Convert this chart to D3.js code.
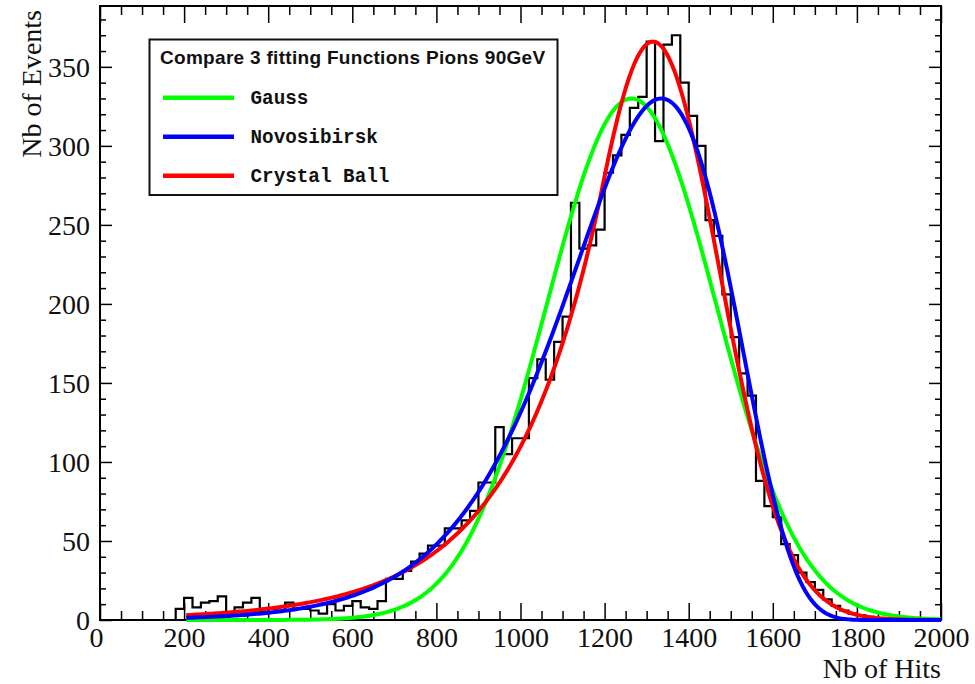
<!DOCTYPE html>
<html>
<head>
<meta charset="utf-8">
<script src="https://cdn.jsdelivr.net/npm/d3@7"></script>
<style>
  body { margin: 0; background: #fff; }
  svg { display: block; }
</style>
</head>
<body>
<svg id="chart" width="975" height="684"></svg>
<script>
// ---- histogram: number of hits per event, 20-hit bins from 0 to 2000 ----
const binWidth = 20;
const binCounts = [
  0, 0, 0, 0, 0, 0, 0, 0, 0, 7,          // 0 - 199
  14, 8, 11, 12, 15, 5, 8, 11, 14, 5,    // 200 - 399
  7, 6, 11, 7, 7, 6, 4, 10, 6, 9,        // 400 - 599
  12, 8, 7, 12, 26, 26, 31, 37, 42, 47,  // 600 - 799
  47, 58, 58, 63, 69, 87, 87, 122, 105, 115,      // 800 - 999
  115, 153, 165, 152, 176, 192, 264, 235, 237, 247, // 1000 - 1199
  283, 294, 307, 324, 331, 366, 303, 364, 370, 340, // 1200 - 1399
  319, 300, 253, 243, 206, 179, 156, 142, 88, 72,   // 1400 - 1599
  65, 48, 41, 30, 24, 19, 13, 9, 6, 4,              // 1600 - 1799
  3, 2, 1, 1, 0, 0, 0, 0, 0, 0                      // 1800 - 1999
];

// ---- axes ----
const xDomain = [0, 2000];
const yDomain = [0, 388.5];
const xMajorTicks = [0, 200, 400, 600, 800, 1000, 1200, 1400, 1600, 1800, 2000];
const xMinorStep = 50;
const yMajorTicks = [0, 50, 100, 150, 200, 250, 300, 350];
const yMinorStep = 10;
const xTitle = "Nb of Hits";
const yTitle = "Nb of Events";

// ---- fitted functions (parameters of each fit) ----
const fitRange = [205, 2000];
const gaussFit = { amp: 330, mean: 1264, sigma: 201 };
const novosibirskFit = { amp: 330, peak: 1335, width: 204, tail: 0.306 };
const crystalBallFit = { amp: 366, mean: 1315, sigma: 158, alpha: 0.75, n: 50 };

// ---- legend ----
const legendTitle = "Compare 3 fitting Functions Pions 90GeV";
const legendNames = ["Gauss", "Novosibirsk", "Crystal Ball"];
const legendColors = ["#00ff00", "#0000ff", "#ff0000"];

// ---------------------------------------------------------------
const frame = { left: 100, right: 941, top: 6, bottom: 620 };
const svg = d3.select("#chart");

const x = d3.scaleLinear().domain(xDomain).range([frame.left, frame.right]);
const y = d3.scaleLinear().domain(yDomain).range([frame.bottom, frame.top]);

// fit shapes
function gauss(v, p) {
  const t = (v - p.mean) / p.sigma;
  return p.amp * Math.exp(-0.5 * t * t);
}
function novosibirskShape(v, peak, width, tail) {
  if (Math.abs(tail) < 1e-7) return Math.exp(-0.5 * Math.pow((v - peak) / width, 2));
  const arg = 1 - (v - peak) * tail / width;
  if (arg < 1e-7) return 0;
  const lg = Math.log(arg);
  const xi = 2.3548200450309494;
  const w0 = (2 / xi) * Math.asinh(tail * xi * 0.5);
  const w02 = w0 * w0;
  return Math.exp(-0.5 / w02 * lg * lg - w02 * 0.5);
}
function novosibirsk(v, p) {
  return p.amp * novosibirskShape(v, p.peak, p.width, p.tail) /
         novosibirskShape(p.peak, p.peak, p.width, p.tail);
}
function crystalBall(v, p) {
  const t = (v - p.mean) / p.sigma;
  if (t > -p.alpha) return p.amp * Math.exp(-0.5 * t * t);
  const b = p.n / p.alpha - p.alpha;
  return p.amp * Math.exp(-0.5 * p.alpha * p.alpha) *
         Math.pow((p.n / p.alpha) / (b - t), p.n);
}

// frame
svg.append("rect")
  .attr("x", frame.left).attr("y", frame.top)
  .attr("width", frame.right - frame.left)
  .attr("height", frame.bottom - frame.top)
  .attr("fill", "#fff").attr("stroke", "#000").attr("stroke-width", 2);

// ticks (drawn inward on all four sides)
const xMinor = d3.range(xDomain[0], xDomain[1] + 1, xMinorStep).filter(v => !xMajorTicks.includes(v));
const yMinor = d3.range(yDomain[0], yDomain[1], yMinorStep).filter(v => !yMajorTicks.includes(v));

function tickAxis(gen, transform, values, size) {
  const g = svg.append("g").attr("transform", transform)
    .call(gen.tickValues(values).tickSize(-size).tickFormat(""));
  g.select(".domain").remove();
  g.selectAll("line").attr("stroke", "#000").attr("stroke-width", 1.5);
  return g;
}
tickAxis(d3.axisBottom(x), `translate(0,${frame.bottom})`, xMajorTicks, 17);
tickAxis(d3.axisBottom(x), `translate(0,${frame.bottom})`, xMinor, 9);
tickAxis(d3.axisTop(x), `translate(0,${frame.top})`, xMajorTicks, 17);
tickAxis(d3.axisTop(x), `translate(0,${frame.top})`, xMinor, 9);
tickAxis(d3.axisLeft(y), `translate(${frame.left},0)`, yMajorTicks, 12);
tickAxis(d3.axisLeft(y), `translate(${frame.left},0)`, yMinor, 6);
tickAxis(d3.axisRight(y), `translate(${frame.right},0)`, yMajorTicks, 12);
tickAxis(d3.axisRight(y), `translate(${frame.right},0)`, yMinor, 6);

// tick labels
const labelFont = "'Liberation Serif', 'Times New Roman', serif";
const xLab = d3.axisBottom(x).tickValues(xMajorTicks).tickSize(0).tickPadding(0)
  .tickFormat(d3.format("d"));
const gxl = svg.append("g").attr("transform", `translate(0,${frame.bottom})`).call(xLab);
gxl.select(".domain").remove();
gxl.selectAll("text")
  .attr("y", 27).attr("dy", null)
  .attr("font-family", labelFont).attr("font-size", 28).attr("fill", "#111");
gxl.selectAll(".tick").filter(d => d === xDomain[0]).select("text").attr("x", -4);

const yLab = d3.axisLeft(y).tickValues(yMajorTicks).tickSize(0).tickPadding(0)
  .tickFormat(d3.format("d"));
const gyl = svg.append("g").attr("transform", `translate(${frame.left},0)`).call(yLab);
gyl.select(".domain").remove();
gyl.selectAll("text")
  .attr("x", -10).attr("dy", "0.34em")
  .attr("font-family", labelFont).attr("font-size", 28).attr("fill", "#111");

// axis titles
svg.append("text")
  .attr("x", frame.right).attr("y", 678)
  .attr("text-anchor", "end")
  .attr("font-family", labelFont).attr("font-size", 28).attr("fill", "#111")
  .text(xTitle);
svg.append("text")
  .attr("transform", `translate(41,10) rotate(-90)`)
  .attr("text-anchor", "end")
  .attr("font-family", labelFont).attr("font-size", 28).attr("fill", "#111")
  .text(yTitle);

// histogram outline
const histPts = [[xDomain[0], 0]];
binCounts.forEach((c, i) => {
  histPts.push([i * binWidth, c]);
  histPts.push([(i + 1) * binWidth, c]);
});
histPts.push([binCounts.length * binWidth, 0]);
svg.append("path")
  .attr("d", d3.line().x(d => x(d[0])).y(d => y(d[1]))(histPts))
  .attr("fill", "none").attr("stroke", "#000").attr("stroke-width", 2.2)
  .attr("stroke-linejoin", "miter");

// fitted curves
const samples = d3.range(0, 301).map(i => fitRange[0] + (fitRange[1] - fitRange[0]) * i / 300);
const curveLine = d3.line().x(d => x(d[0])).y(d => y(d[1]));
const curves = [
  { fn: v => gauss(v, gaussFit), color: legendColors[0] },
  { fn: v => crystalBall(v, crystalBallFit), color: legendColors[2] },
  { fn: v => novosibirsk(v, novosibirskFit), color: legendColors[1] }
];
curves.forEach(c => {
  svg.append("path")
    .attr("d", curveLine(samples.map(v => [v, Math.max(0, c.fn(v))])))
    .attr("fill", "none").attr("stroke", c.color).attr("stroke-width", 4)
    .attr("stroke-linejoin", "round");
});

// legend
const lg = svg.append("g");
lg.append("rect")
  .attr("x", 149.5).attr("y", 39.5).attr("width", 408).attr("height", 155.5)
  .attr("fill", "#fff").attr("stroke", "#111").attr("stroke-width", 2);
lg.append("text")
  .attr("x", 160).attr("y", 64)
  .attr("font-family", "'Liberation Sans', Arial, sans-serif")
  .attr("font-weight", "bold").attr("font-size", 19).attr("letter-spacing", 0.3)
  .attr("fill", "#111")
  .text(legendTitle);
legendNames.forEach((name, i) => {
  const cy = 97.7 + i * 39;
  lg.append("line")
    .attr("x1", 163).attr("x2", 234).attr("y1", cy).attr("y2", cy)
    .attr("stroke", legendColors[i]).attr("stroke-width", 4.5);
  lg.append("text")
    .attr("x", 250.5).attr("y", cy + 6)
    .attr("font-family", "'Liberation Mono', 'Courier New', monospace")
    .attr("font-weight", "bold").attr("font-size", 19.3).attr("fill", "#111")
    .text(name);
});
</script>
</body>
</html>
